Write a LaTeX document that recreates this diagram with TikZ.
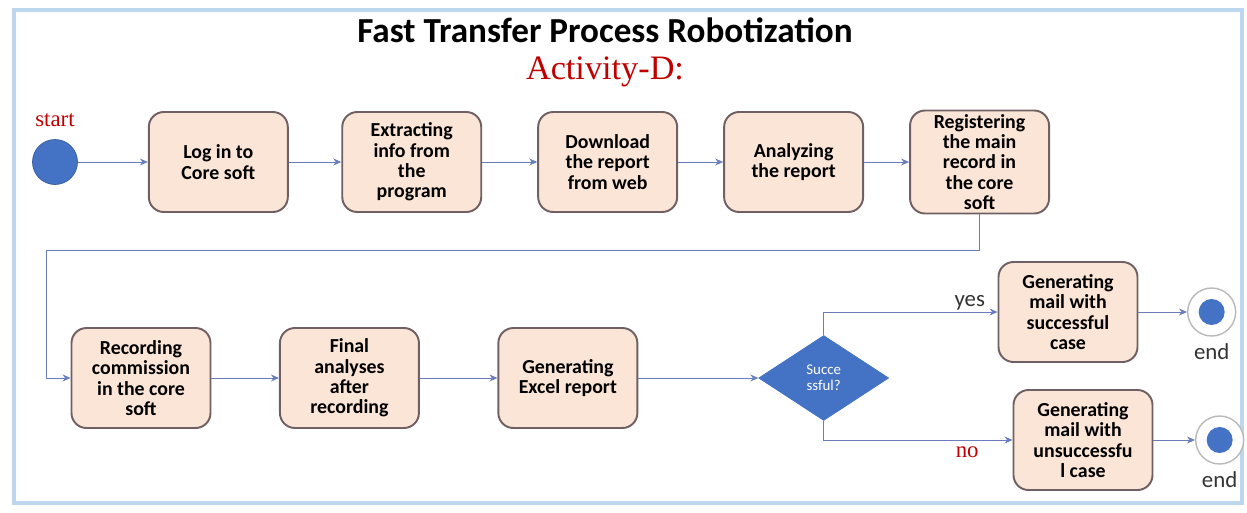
\documentclass[tikz,border=0pt]{standalone}
\usepackage{fontspec}
\setmainfont{Carlito}
\newfontfamily\serifred{Liberation Serif}
\usetikzlibrary{positioning, shapes.geometric, arrows.meta}

\definecolor{boxfill}{RGB}{251,229,214}
\definecolor{boxline}{RGB}{112,96,100}
\definecolor{officeblue}{RGB}{68,114,196}
\definecolor{linkblue}{RGB}{105,125,190}
\definecolor{framelight}{RGB}{189,215,238}
\definecolor{darkred}{RGB}{192,0,0}

\begin{document}
\begin{tikzpicture}[
                node distance = 1cm and 1cm,
                    box/.style = {draw=boxline, fill=boxfill, rounded corners=0.3cm, minimum width=2.78cm, minimum height=2cm, align=center, font=\bfseries\fontsize{11.3}{11.5}\selectfont, line width=1.1pt, inner sep=2pt},
                    decision/.style = {diamond, draw=officeblue, fill=officeblue, minimum width=2.6cm, minimum height=1.7cm, inner sep=0pt, align=center, text=white, font=\fontsize{8.5}{9}\selectfont},
                    startnode/.style = {circle, fill=officeblue, draw=officeblue!80!black, minimum size=0.9cm, inner sep=0pt},
                    endnode/.style = {circle, draw=gray!55, fill=white, line width=0.8pt, minimum size=0.96cm, inner sep=0pt, path picture={\fill[officeblue] (path picture bounding box.center) circle (0.26cm);}},
                    arrow/.style = {-{Stealth[length=1.6mm, width=1.4mm]}, draw=linkblue, line width=0.5pt},
                    redlabel/.style = {text=darkred, font=\serifred\fontsize{13}{15}\selectfont},
                    greylabel/.style = {text=black!80, font=\fontsize{13}{15}\selectfont}
                ]

                \useasboundingbox (0,0) rectangle (24.94,-10.24);
                \draw[framelight, line width=2.3pt] (0.28,-0.2) rectangle (24.84,-10.06);

                \node[font=\bfseries\fontsize{20}{22}\selectfont, inner sep=1pt] (title) at (12.1,-0.6) {Fast Transfer Process Robotization};
                \node[redlabel, font=\serifred\fontsize{19.5}{21}\selectfont, inner sep=1pt, below=0.2cm of title] (activity) {Activity-D:};

                % first row
                \node[startnode] (start) at (1.1,-3.24) {};
                \node[redlabel, above=0.12cm of start] (startlabel) {start};
                \node[box, right=1.4cm of start] (login) {Log in to\\Core soft};
                \node[box, right=1.05cm of login] (extract) {Extracting\\info from\\the\\program};
                \node[box, right=1.1cm of extract] (download) {Download\\the report\\from web};
                \node[box, right=0.9cm of download] (analyze) {Analyzing\\the report};
                \node[box, right=0.9cm of analyze, minimum height=2.06cm] (register) {Registering\\the main\\record in\\the core\\soft};

                % second row
                \node[box] (record) at (2.82,-7.56) {Recording\\commission\\in the core\\soft};
                \node[box, right=1.35cm of record] (finalan) {Final\\analyses\\after\\recording};
                \node[box, right=1.55cm of finalan] (excel) {Generating\\Excel report};
                \node[decision, right=2.4cm of excel] (success) {Succe\\ssful?};

                \node[box] (mailok) at (21.36,-6.24) {Generating\\mail with\\successful\\case};
                \node[box] (mailfail) at (21.66,-8.8) {Generating\\mail with\\unsuccessfu\\l case};
                \node[endnode, right=0.97cm of mailok] (endok) {};
                \node[endnode, right=0.83cm of mailfail] (endfail) {};
                \node[greylabel, below=0.02cm of endok] (endoklabel) {end};
                \node[greylabel, below=0.02cm of endfail] (endfaillabel) {end};

                \draw[arrow] (start) -- (login);
                \draw[arrow] (login) -- (extract);
                \draw[arrow] (extract) -- (download);
                \draw[arrow] (download) -- (analyze);
                \draw[arrow] (analyze) -- (register);
                \draw[arrow] (register.south) |- ([xshift=-0.48cm, yshift=2.56cm]record.west) |- (record.west);
                \draw[arrow] (record) -- (finalan);
                \draw[arrow] (finalan) -- (excel);
                \draw[arrow] (excel) -- (success);
                \draw[arrow] (success.north) |- node[greylabel, pos=0.92, above, inner sep=1pt] {yes} (mailok.west);
                \draw[arrow] (success.south) |- node[redlabel, pos=0.88, below] {no} (mailfail.west);
                \draw[arrow] (mailok) -- (endok);
                \draw[arrow] (mailfail) -- (endfail);

            \end{tikzpicture}
\end{document}
